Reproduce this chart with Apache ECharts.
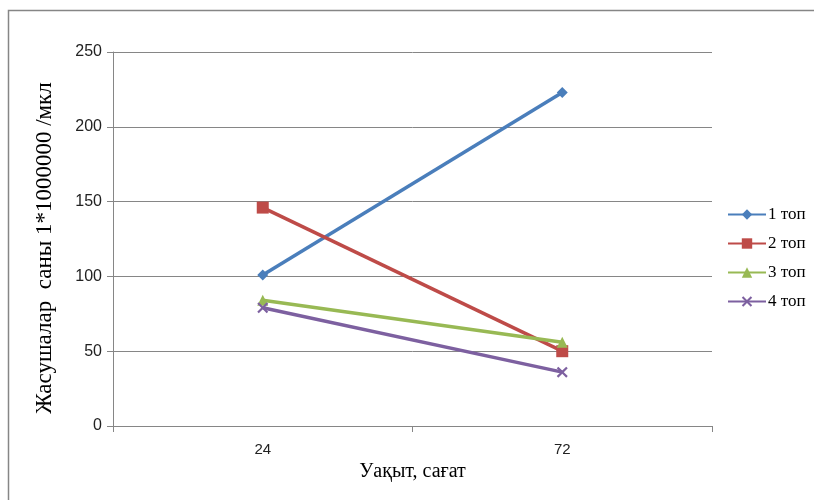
<!DOCTYPE html>
<html><head><meta charset="utf-8">
<script src="https://cdn.jsdelivr.net/npm/echarts@6/dist/echarts.min.js"></script>
<style>html,body{margin:0;padding:0;background:#fff}#c{width:814px;height:500px}</style>
</head><body><div id="c"></div>
<script>
var categories = ['24', '72'];
var seriesNames = ['1 топ', '2 топ', '3 топ', '4 топ'];
var s1 = [101, 223];
var s2 = [146, 50];
var s3 = [84, 56];
var s4 = [79, 36];
var colors = ['#4A7EBB', '#BE4B48', '#98B954', '#7D60A0'];
var xPath = 'path://M0,1.4 L1.4,0 L5,3.6 L8.6,0 L10,1.4 L6.4,5 L10,8.6 L8.6,10 L5,6.4 L1.4,10 L0,8.6 L3.6,5 Z';
var symbols = ['diamond', 'rect', 'triangle', xPath];
var sizes = [11, 12, 11, 11];
var values = [s1, s2, s3, s4];

var chart = echarts.init(document.getElementById('c'));
chart.setOption({
  animation: false,
  backgroundColor: '#fff',
  graphic: [{type: 'rect', shape: {x: 8.5, y: 10.5, width: 900, height: 600},
    style: {fill: 'none', stroke: '#868686', lineWidth: 1.5}, silent: true}],
  grid: {left: 113, right: 102, top: 52, bottom: 74},
  legend: {
    orient: 'vertical', left: 727, top: 206, padding: 0,
    itemWidth: 38, itemHeight: 13, itemGap: 12,
    textStyle: {fontFamily: 'Liberation Serif', fontSize: 17, color: '#000', padding: [0,0,0,-3]},
    data: seriesNames
  },
  xAxis: {
    type: 'category', data: categories, boundaryGap: true,
    name: 'Уақыт, сағат', nameLocation: 'middle', nameGap: 36,
    nameTextStyle: {fontFamily: 'Liberation Serif', fontSize: 20, color: '#000'},
    axisLine: {lineStyle: {color: '#868686', width: 1}},
    axisTick: {show: true, length: 6, lineStyle: {color: '#868686'}},
    axisLabel: {fontFamily: 'Liberation Sans', fontSize: 15, color: '#222', margin: 16}
  },
  yAxis: {
    type: 'value', min: 0, max: 250, interval: 50,
    name: 'Жасушалар  саны 1*1000000 /мкл', nameLocation: 'middle', nameGap: 57,
    nameTextStyle: {fontFamily: 'Liberation Serif', fontSize: 23, color: '#000', padding: [0, 18, 0, 0]},
    axisLine: {show: true, lineStyle: {color: '#868686', width: 1}},
    axisTick: {show: true, length: 6, lineStyle: {color: '#868686'}},
    axisLabel: {fontFamily: 'Liberation Sans', fontSize: 16, color: '#222', margin: 11},
    splitLine: {lineStyle: {color: '#868686', width: 1}}
  },
  series: seriesNames.map(function (n, i) {
    return {
      name: n, type: 'line', data: values[i],
      symbol: symbols[i], symbolSize: sizes[i],
      lineStyle: {color: colors[i], width: 3.5},
      itemStyle: {color: colors[i]}
    };
  })
});
</script></body></html>
